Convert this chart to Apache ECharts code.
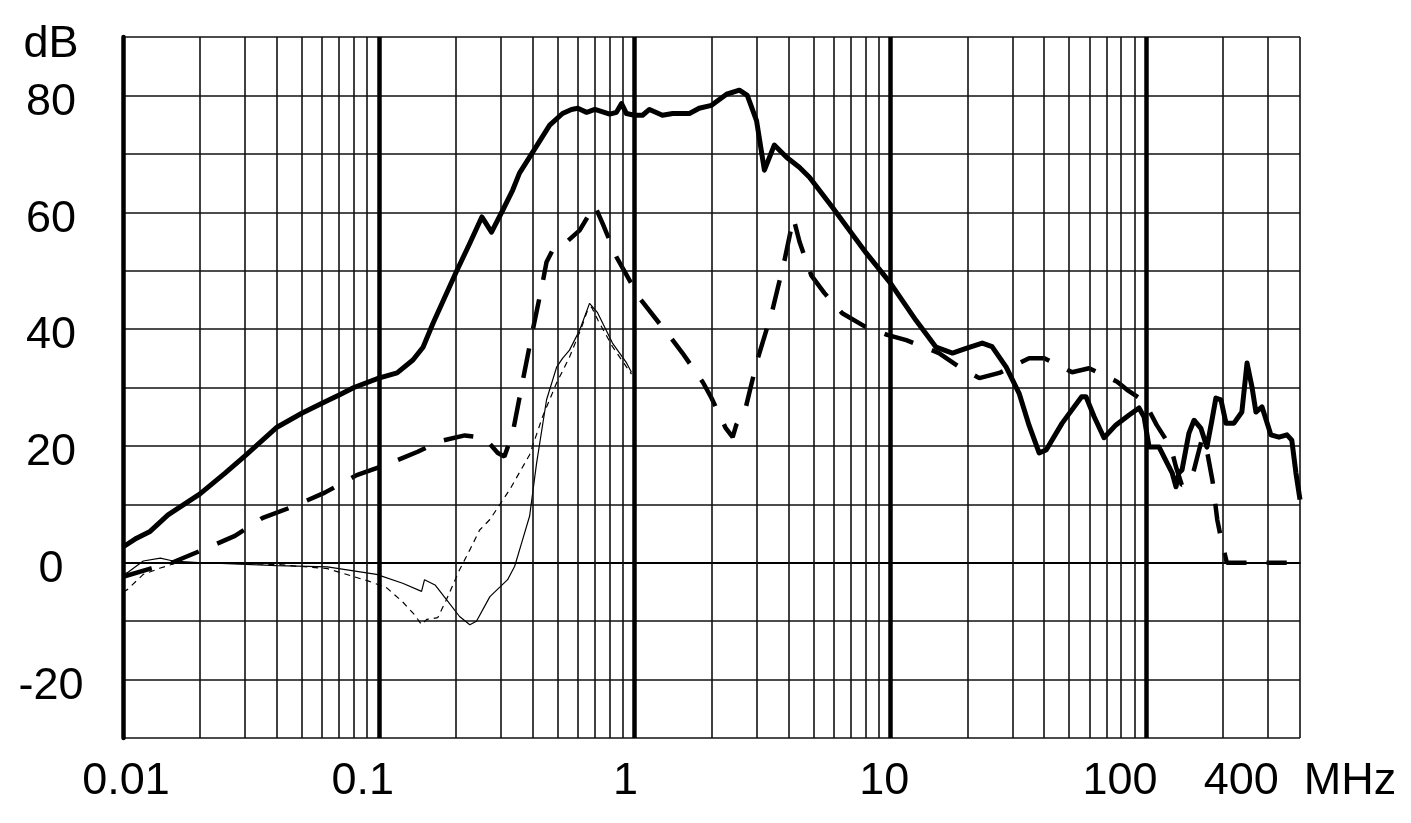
<!DOCTYPE html>
<html><head><meta charset="utf-8">
<script src="https://cdn.jsdelivr.net/npm/echarts@6/dist/echarts.min.js"></script>
<style>html,body{margin:0;padding:0;background:#fff}#c{width:1411px;height:823px}</style>
</head><body><div id="c"></div>
<script>
// ---- data (frequency MHz, level dB) ----
const heavySolid = [[0.01,2.7],[0.0113,4.2],[0.0127,5.3],[0.015,8.2],[0.02,11.8],[0.025,15.3],[0.03,18.3],[0.04,23.2],[0.05,25.6],[0.06,27.3],[0.07,28.7],[0.08,30],[0.1,31.6],[0.118,32.5],[0.136,34.7],[0.149,36.9],[0.163,41],[0.2,49.6],[0.227,54.7],[0.253,59.2],[0.276,56.6],[0.305,60.3],[0.334,63.8],[0.355,66.7],[0.4,70.3],[0.466,74.9],[0.523,76.9],[0.567,77.6],[0.6,77.8],[0.65,77.1],[0.7,77.6],[0.8,76.8],[0.85,77.1],[0.89,78.6],[0.93,76.9],[1.0,76.6],[1.075,76.6],[1.144,77.6],[1.286,76.6],[1.41,76.9],[1.53,76.9],[1.64,76.9],[1.79,77.8],[2.0,78.3],[2.29,80.2],[2.57,80.9],[2.76,80],[3.0,75.7],[3.22,67.2],[3.52,71.5],[3.93,69.4],[4.41,67.7],[4.83,66],[5.93,60.9],[8.06,53],[10,47.9],[12.6,41.5],[15.1,36.9],[17.5,35.9],[19.8,36.7],[22.9,37.6],[25,37],[28.4,33.5],[31.9,29],[34.9,23.5],[38.2,18.8],[40.7,19.3],[47,23.9],[56,28.4],[58.3,28.4],[62.7,25],[68.5,21.4],[76.3,23.6],[85.9,25.3],[93.9,26.5],[98.2,25],[102.8,19.8],[112.5,19.8],[120.8,17.1],[126.5,15.4],[131,13],[134.6,15.4],[138.3,15.9],[147.2,22.2],[154.1,24.4],[164,23],[173,19.8],[181,24.4],[187.6,28.2],[196.3,27.9],[205.4,23.9],[220.8,23.9],[237,25.8],[248.3,34.2],[259.6,30.1],[269,25.8],[284,26.7],[307.7,21.9],[331,21.5],[355.7,21.9],[371.5,21],[385.5,15.4],[400,10.8]];
const heavyDashed = [[0.01,-2.4],[0.0128,-1.0],[0.0155,0.0],[0.0205,2.2],[0.0274,4.6],[0.0352,7.7],[0.0461,9.6],[0.0615,12],[0.082,15],[0.1075,16.8],[0.142,19],[0.173,20.8],[0.217,21.8],[0.259,21.4],[0.292,18.8],[0.31,18.2],[0.334,22.2],[0.365,31],[0.4,39.8],[0.437,47.9],[0.453,51.5],[0.478,53.5],[0.542,54.9],[0.61,56.9],[0.698,61.2],[0.75,58.1],[0.851,52.3],[1.046,45.3],[1.25,41],[1.41,38.1],[1.54,35.9],[1.85,30.9],[2.0,28.2],[2.27,23.1],[2.42,21.5],[2.5,23.6],[2.72,26.5],[3.02,34.7],[3.46,43.2],[3.86,51.8],[4.18,59],[4.42,54.9],[4.91,49.2],[5.52,46.2],[6.49,42.7],[7.91,40.5],[9.73,39],[11.55,38.1],[15.5,35.9],[18.6,33.5],[22.3,31.6],[26.7,32.5],[34.9,35],[40,35],[51.4,32.6],[59.9,33.3],[77.1,31],[84.3,29.6],[96.5,27.9],[103,26],[110,23.6],[125,19.8],[131,16.4],[138,13.3],[146,13.5],[154,15.9],[165,21],[170,21],[182,14],[190,7.3],[196,4.4],[207,0],[355,0]];
const thinSolid = [[0.01,-2],[0.0104,-1.7],[0.012,0.3],[0.014,0.8],[0.0157,0.3],[0.0205,0],[0.04,-0.5],[0.063,-0.7],[0.098,-2],[0.124,-3.5],[0.147,-4.9],[0.151,-2.9],[0.166,-3.8],[0.184,-6.3],[0.207,-9.2],[0.227,-10.6],[0.241,-10],[0.272,-5.8],[0.319,-2.9],[0.34,-0.6],[0.362,3.4],[0.389,8],[0.414,17],[0.453,27.9],[0.496,33.5],[0.523,35],[0.557,36.4],[0.61,39.8],[0.667,44.4],[0.717,42.8],[0.82,37.6],[0.931,34.2],[0.973,32.6]];
const thinDashed = [[0.01,-5],[0.0104,-4.6],[0.012,-2],[0.014,-0.9],[0.01625,0],[0.0219,0],[0.04,-0.3],[0.063,-1],[0.092,-3.2],[0.1075,-4.3],[0.124,-6.7],[0.138,-8.9],[0.147,-10.6],[0.154,-9.7],[0.17,-9.4],[0.184,-6.3],[0.207,-1.2],[0.227,2.2],[0.248,5.6],[0.272,7.4],[0.325,12.5],[0.389,18.5],[0.437,25],[0.496,30.8],[0.557,35.2],[0.621,40.3],[0.655,43.2],[0.679,43.8],[0.72,41.5],[0.82,37],[0.931,33.5],[0.973,32.3]];

const xTickValues = [0.01, 0.1, 1, 10, 100, 400];
const xTickText = ['0.01', '0.1', '1', '10', '100', '400  MHz'];
const yTickValues = [90, 80, 60, 40, 20, 0, -20];
const yTickText = ['dB', '80', '60', '40', '20', '0', '-20'];
const decadeLines = [0.1, 1, 10, 100];
const minorLines = [0.02,0.03,0.04,0.05,0.06,0.07,0.08,0.09,0.2,0.3,0.4,0.5,0.6,0.7,0.8,0.9,2,3,4,5,6,7,8,9,20,30,40,50,60,70,80,90,200,300,400];

// ---- chart ----
const FONT = 'Liberation Sans, Arial, sans-serif';
const xRichKeys = ['a','b','c','d','e','m'];
const chart = echarts.init(document.getElementById('c'), null, {renderer: 'canvas'});
const base = {fontSize: 45, fontFamily: FONT, color: '#000'};
const option = {
  animation: false,
  backgroundColor: '#fff',
  grid: {left: 123, right: 111, top: 37, bottom: 85, containLabel: false, outerBoundsMode: 'none'},
  xAxis: {
    type: 'log', logBase: 10, min: 0.01, max: 400,
    axisLine: {show: true, lineStyle: {color: '#000', width: 2}},
    axisTick: {show: false},
    splitLine: {show: false},
    minorTick: {show: false}, minorSplitLine: {show: false},
    axisLabel: {
      show: true, margin: 21, showMinLabel: true, showMaxLabel: true,
      fontSize: 45, fontFamily: FONT, color: '#000',
      formatter: function (v) {
        for (let i = 0; i < xTickValues.length; i++) {
          if (Math.abs(v - xTickValues[i]) / xTickValues[i] < 1e-3) return '{' + xRichKeys[i] + '|' + xTickText[i] + '}';
        }
        return '';
      },
      rich: {
        a: Object.assign({padding: [0, 0, 0, 6]}, base),
        b: Object.assign({padding: [0, 32, 0, 0]}, base),
        c: Object.assign({padding: [0, 18, 0, 0]}, base),
        d: Object.assign({padding: [0, 12, 0, 0]}, base),
        e: Object.assign({padding: [0, 52, 0, 0]}, base),
        m: Object.assign({}, base)
      }
    }
  },
  yAxis: {
    type: 'value', min: -30, max: 90, interval: 10,
    axisLine: {show: true, lineStyle: {color: '#000', width: 4.5}},
    axisTick: {show: false},
    splitLine: {show: true, showMinLine: true, showMaxLine: true, lineStyle: {color: '#111', width: 1.6}},
    axisLabel: {
      show: true, margin: 72, align: 'center',
      fontSize: 45, fontFamily: FONT, color: '#000',
      formatter: function (v) {
        const i = yTickValues.indexOf(Math.round(v));
        if (i < 0) return '';
        return (i === 0 ? '{t|' : '{y|') + yTickText[i] + '}';
      },
      rich: {
        y: Object.assign({padding: [14, 0, 0, 0]}, base),
        t: Object.assign({padding: [16, 0, 0, 0]}, base)
      }
    }
  },
  series: [
    {
      type: 'line', data: [], z: 1, silent: true,
      markLine: {
        silent: true, symbol: ['none', 'none'], animation: false,
        label: {show: false},
        lineStyle: {color: '#111', width: 1.6, type: 'solid'},
        data: minorLines.map(v => ({xAxis: v}))
      }
    },
    {
      type: 'line', data: [], z: 1, silent: true,
      markLine: {
        silent: true, symbol: ['none', 'none'], animation: false,
        label: {show: false},
        lineStyle: {color: '#000', width: 4.5, type: 'solid'},
        data: decadeLines.map(v => ({xAxis: v}))
      }
    },
    {
      type: 'line', data: thinSolid, z: 3, symbol: 'none', smooth: false,
      lineStyle: {color: '#000', width: 1.2, type: 'solid'}
    },
    {
      type: 'line', data: thinDashed, z: 3, symbol: 'none', smooth: false,
      lineStyle: {color: '#000', width: 1.2, type: [6, 5]}
    },
    {
      type: 'line', data: heavyDashed, z: 4, symbol: 'none', smooth: false,
      lineStyle: {color: '#000', width: 4.5, type: [30, 20]}
    },
    {
      type: 'line', data: heavySolid, z: 5, symbol: 'none', smooth: false,
      lineStyle: {color: '#000', width: 5, type: 'solid', join: 'round'}
    }
  ]
};
chart.setOption(option);
</script>
</body></html>
